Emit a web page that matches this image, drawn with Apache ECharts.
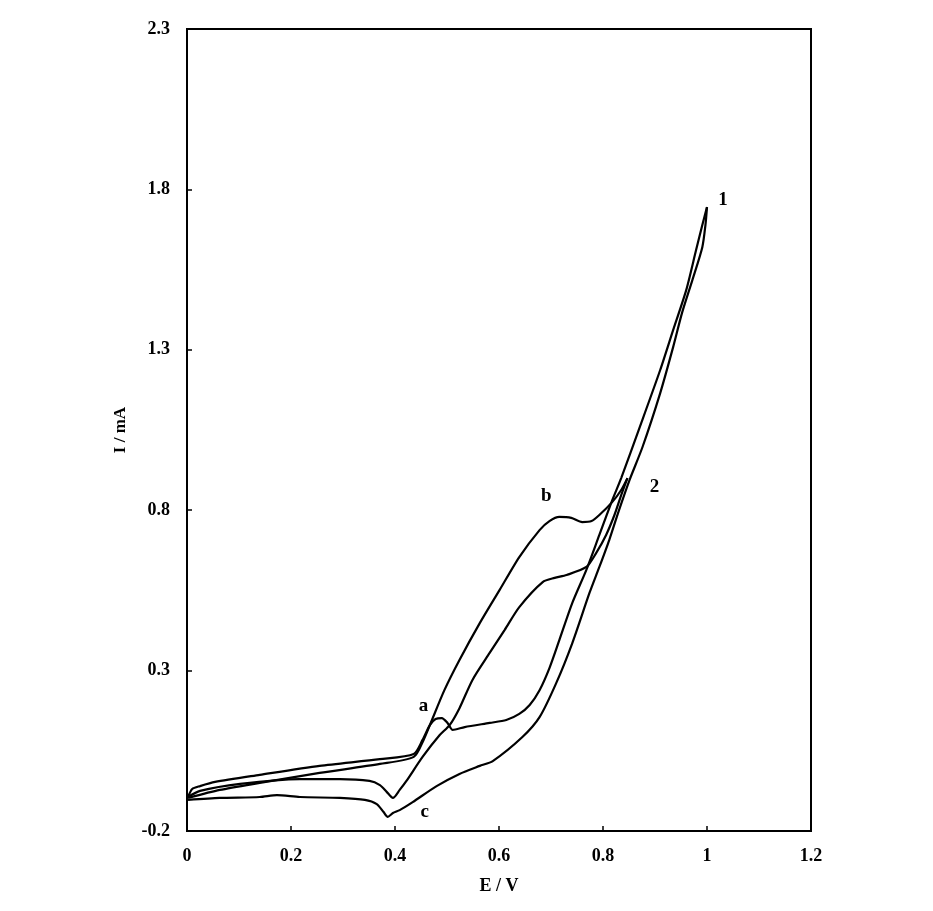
<!DOCTYPE html>
<html><head><meta charset="utf-8">
<script src="https://cdn.jsdelivr.net/npm/echarts@6/dist/echarts.min.js"></script>
<style>html,body{margin:0;padding:0;background:#fff}#c{width:933px;height:911px}</style>
</head><body><div id="c"></div>
<script>
// E (V), I (mA)
const curve1Forward = [
  [0.002,-0.094],[0.010,-0.069],[0.025,-0.060],[0.054,-0.047],[0.140,-0.025],[0.255,0.003],
  [0.371,0.024],[0.436,0.040],[0.453,0.084],[0.467,0.130],[0.478,0.149],[0.490,0.152],
  [0.501,0.137],[0.511,0.115],[0.534,0.124],[0.582,0.137],[0.614,0.146],[0.639,0.165],
  [0.659,0.193],[0.678,0.239],[0.697,0.308],[0.716,0.395],[0.741,0.511],[0.768,0.614],
  [0.793,0.723],[0.818,0.832],[0.835,0.900],[0.870,1.056],[0.910,1.237],[0.935,1.362],
  [0.960,1.486],[0.979,1.611],[0.991,1.689],[1.000,1.745]
];
const curve1Reverse = [
  [1.000,1.745],[0.997,1.689],[0.991,1.620],[0.972,1.518],[0.952,1.415],[0.935,1.309],
  [0.910,1.165],[0.876,0.997],[0.851,0.894],[0.831,0.801],[0.812,0.707],[0.793,0.623],
  [0.774,0.542],[0.741,0.386],[0.710,0.261],[0.678,0.155],[0.645,0.093],[0.588,0.018],
  [0.563,0.003],[0.524,-0.022],[0.480,-0.060],[0.434,-0.110],[0.409,-0.135],[0.396,-0.144],
  [0.386,-0.156],[0.378,-0.141],[0.365,-0.116],[0.342,-0.103],[0.294,-0.097],[0.217,-0.094],
  [0.173,-0.088],[0.140,-0.094],[0.063,-0.097],[0.002,-0.103]
];
const curve2Forward = [
  [0.002,-0.097],[0.063,-0.072],[0.140,-0.050],[0.255,-0.019],[0.371,0.009],[0.436,0.031],
  [0.455,0.084],[0.467,0.130],[0.495,0.239],[0.524,0.333],[0.563,0.448],[0.601,0.551],
  [0.639,0.654],[0.678,0.738],[0.697,0.766],[0.716,0.779],[0.739,0.776],[0.760,0.763],
  [0.778,0.766],[0.793,0.785],[0.818,0.826],[0.835,0.863],[0.847,0.900]
];
const curve2Reverse = [
  [0.847,0.900],[0.835,0.847],[0.822,0.785],[0.806,0.723],[0.787,0.667],[0.768,0.623],
  [0.730,0.598],[0.707,0.589],[0.684,0.576],[0.639,0.498],[0.611,0.427],[0.582,0.355],
  [0.549,0.271],[0.524,0.183],[0.505,0.130],[0.486,0.099],[0.453,0.031],[0.422,-0.044],
  [0.409,-0.072],[0.396,-0.097],[0.384,-0.078],[0.371,-0.057],[0.351,-0.044],[0.294,-0.038],
  [0.217,-0.038],[0.102,-0.053],[0.025,-0.075],[0.002,-0.094]
];
const annotations = [
  {name:'1', value:[1.031,1.767]},
  {name:'2', value:[0.899,0.872]},
  {name:'a', value:[0.455,0.190]},
  {name:'b', value:[0.691,0.844]},
  {name:'c', value:[0.457,-0.141]}
];
const yTicks = [-0.2,0.3,0.8,1.3,1.8,2.3];
const xTicks = [0,0.2,0.4,0.6,0.8,1,1.2];

const font = 'Liberation Serif';
const lineSeries = (d) => ({
  type:'line', data:d, showSymbol:false, smooth:0.25, silent:true,
  lineStyle:{color:'#000', width:2.2}
});
const chart = echarts.init(document.getElementById('c'), null, {renderer:'canvas'});
chart.setOption({
  animation:false,
  backgroundColor:'#fff',
  grid:{left:187, top:29, right:122, bottom:80, show:true, borderColor:'#000', borderWidth:2},
  xAxis:{
    type:'value', min:0, max:1.2, interval:0.2,
    name:'E / V', nameLocation:'middle', nameGap:46,
    nameTextStyle:{fontFamily:font, fontWeight:'bold', fontSize:18, color:'#000'},
    axisLine:{onZero:false, lineStyle:{color:'#000', width:2}},
    axisTick:{inside:true, length:5, lineStyle:{color:'#000', width:1.5}, customValues:xTicks},
    axisLabel:{margin:16, fontFamily:font, fontWeight:'bold', fontSize:18, color:'#000', customValues:xTicks},
    splitLine:{show:false}
  },
  yAxis:{
    type:'value', min:-0.2, max:2.3,
    name:'I / mA', nameLocation:'middle', nameGap:58, nameRotate:90,
    nameTextStyle:{fontFamily:font, fontWeight:'bold', fontSize:17, color:'#000'},
    axisLine:{onZero:false, lineStyle:{color:'#000', width:2}},
    axisTick:{inside:true, length:5, lineStyle:{color:'#000', width:1.5}, customValues:yTicks},
    axisLabel:{margin:17, fontFamily:font, fontWeight:'bold', fontSize:18, color:'#000', customValues:yTicks},
    splitLine:{show:false}
  },
  series:[
    lineSeries(curve1Forward), lineSeries(curve1Reverse),
    lineSeries(curve2Forward), lineSeries(curve2Reverse),
    {type:'scatter', data:annotations, symbolSize:0, silent:true, itemStyle:{opacity:1},
     label:{show:true, position:'inside', formatter:'{b}', fontFamily:font, fontWeight:'bold', fontSize:19, color:'#000'}}
  ]
});
</script></body></html>
